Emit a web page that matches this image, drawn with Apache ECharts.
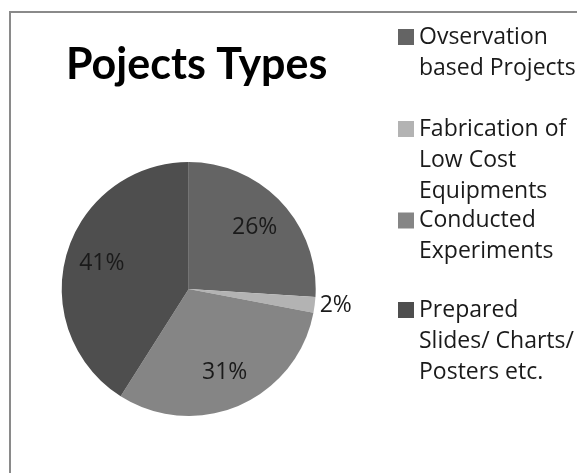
<!DOCTYPE html>
<html><head><meta charset="utf-8">
<script src="https://cdn.jsdelivr.net/npm/echarts@6/dist/echarts.min.js"></script>
<style>html,body{margin:0;padding:0;background:#fff}#c{width:577px;height:473px}</style>
</head><body><div id="c"></div>
<script>
const titleText = 'Pojects Types';
const categories = ['Ovservation based Projects', 'Fabrication of Low Cost Equipments', 'Conducted Experiments', 'Prepared Slides/ Charts/ Posters etc.'];
const legendLines = [['Ovservation', 'based Projects'], ['Fabrication of', 'Low Cost', 'Equipments'], ['Conducted', 'Experiments'], ['Prepared', 'Slides/ Charts/', 'Posters etc.']];
const values = [26, 2, 31, 41];
const colors = ['#646464', '#b3b3b3', '#858585', '#4e4e4e'];

const FONT = 'Open Sans';
const LH = 31;
const iconCenters = [37, 129, 220.5, 310];
const chart = echarts.init(document.getElementById('c'), null, {renderer: 'canvas'});

const legends = categories.map((name, i) => {
  const k = legendLines[i].length;
  const H = (2 * k - 1) * LH;
  return {
    data: [name],
    orient: 'vertical',
    left: 398,
    top: iconCenters[i] - H / 2,
    padding: 0,
    itemWidth: 16,
    itemHeight: 16,
    icon: 'rect',
    selectedMode: false,
    formatter: () => '\n'.repeat(k - 1) + legendLines[i].join('\n'),
    textStyle: {fontFamily: FONT, fontSize: 23, lineHeight: LH, color: '#1a1a1a'}
  };
});

const option = {
  backgroundColor: '#fff',
  animation: false,
  graphic: [{type: 'rect', shape: {x: 10, y: 12, width: 700, height: 600}, style: {fill: 'none', stroke: '#8a8a8a', lineWidth: 2}, silent: true, z: -1}],
  title: {text: titleText, left: 66, top: 44, padding: 0,
    textStyle: {fontFamily: 'Lato', fontWeight: 'bold', fontSize: 43, color: '#000'}},
  legend: legends,
  series: [
    {
      type: 'pie', center: [188.7, 289], radius: [0, 127], startAngle: 90, clockwise: true,
      label: {show: false}, labelLine: {show: false}, emphasis: {disabled: true},
      itemStyle: {borderWidth: 0},
      data: categories.map((n, i) => ({name: n, value: values[i], itemStyle: {color: colors[i]}}))
    },
    {
      // invisible overlay used only to place the value labels
      type: 'pie', center: [188.7, 289], radius: [48, 127], startAngle: 90, clockwise: true,
      silent: true, legendHoverLink: false, emphasis: {disabled: true},
      itemStyle: {color: 'rgba(0,0,0,0)', borderWidth: 0},
      label: {show: true, position: 'inside', formatter: '{c}%', fontFamily: FONT, fontSize: 23, color: '#1a1a1a'},
      labelLine: {show: false, length: 2, length2: 0},
      data: categories.map((n, i) => ({name: n, value: values[i],
        label: values[i] < 5 ? {position: 'outside', distanceToLabelLine: 3} : {}}))
    }
  ]
};
chart.setOption(option);
</script></body></html>
